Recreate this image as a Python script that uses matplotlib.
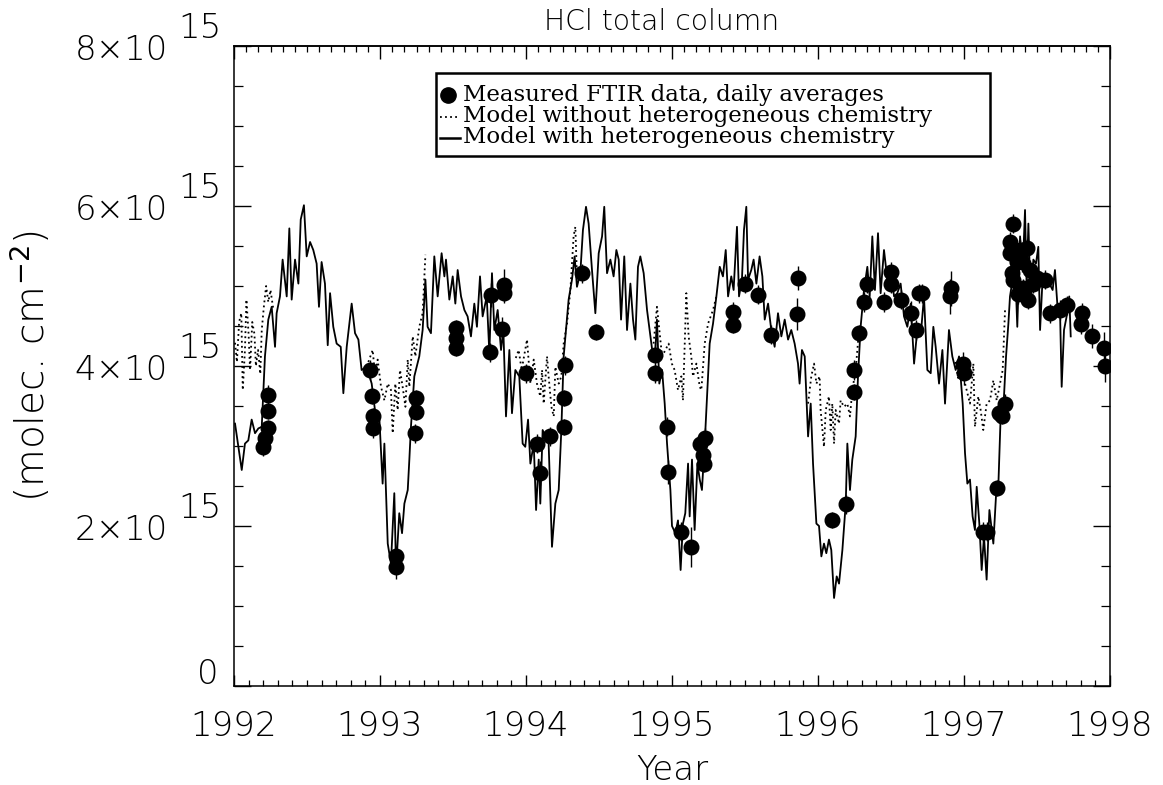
import numpy as np
import matplotlib
matplotlib.use("Agg")
import matplotlib.pyplot as plt
from matplotlib import font_manager
from matplotlib.font_manager import FontProperties
from matplotlib.ticker import MultipleLocator, FixedLocator, NullFormatter
from matplotlib.lines import Line2D
from matplotlib.patches import Rectangle
import matplotlib.transforms as mtrans

# ---------------- data (column in units of 1e15 molec/cm2) ----------------
with_het_year = [
    1992.007, 1992.030, 1992.053, 1992.075, 1992.098, 1992.121, 1992.144, 1992.167, 1992.190,
    1992.212, 1992.235, 1992.258, 1992.281, 1992.292, 1992.315, 1992.333, 1992.361, 1992.379,
    1992.395, 1992.418, 1992.441, 1992.457, 1992.479, 1992.498, 1992.521, 1992.543, 1992.566,
    1992.582, 1992.600, 1992.623, 1992.642, 1992.658, 1992.680, 1992.703, 1992.731, 1992.749,
    1992.772, 1992.790, 1992.806, 1992.829, 1992.852, 1992.874, 1992.909, 1992.943, 1992.977,
    1992.995, 1993.018, 1993.030, 1993.053, 1993.075, 1993.098, 1993.110, 1993.132, 1993.151,
    1993.167, 1993.190, 1993.201, 1993.212, 1993.235, 1993.269, 1993.292, 1993.311, 1993.326,
    1993.349, 1993.372, 1993.395, 1993.422, 1993.441, 1993.452, 1993.475, 1993.498, 1993.516,
    1993.532, 1993.555, 1993.578, 1993.600, 1993.623, 1993.646, 1993.664, 1993.685, 1993.703,
    1993.731, 1993.749, 1993.767, 1993.783, 1993.806, 1993.829, 1993.845, 1993.863, 1993.886,
    1993.904, 1993.927, 1993.954, 1993.977,
    1993.995, 1994.014, 1994.030, 1994.053, 1994.069, 1994.087, 1994.098, 1994.114, 1994.132,
    1994.155, 1994.178, 1994.201, 1994.224, 1994.242, 1994.258, 1994.274, 1994.292, 1994.315,
    1994.333, 1994.349, 1994.372, 1994.390, 1994.411, 1994.429, 1994.452, 1994.475, 1994.498,
    1994.521, 1994.536, 1994.555, 1994.578, 1994.600, 1994.619, 1994.635, 1994.651, 1994.673,
    1994.692, 1994.715, 1994.733, 1994.749, 1994.767, 1994.783, 1994.806, 1994.829, 1994.852,
    1994.870, 1994.886, 1994.897, 1994.913, 1994.932, 1994.950, 1994.966, 1994.989,
    1995.000, 1995.023, 1995.041, 1995.059, 1995.075, 1995.091, 1995.110, 1995.121, 1995.137,
    1995.155, 1995.174, 1995.190, 1995.205, 1995.224, 1995.242, 1995.258, 1995.281, 1995.304,
    1995.327, 1995.349, 1995.368, 1995.384, 1995.406, 1995.422, 1995.445, 1995.459, 1995.479,
    1995.493, 1995.509, 1995.521, 1995.543, 1995.559, 1995.578, 1995.600, 1995.619, 1995.635,
    1995.658, 1995.680, 1995.703, 1995.726, 1995.749, 1995.772, 1995.795, 1995.817, 1995.840,
    1995.863, 1995.874, 1995.890, 1995.909, 1995.932, 1995.950, 1995.966, 1995.989,
    1996.007, 1996.023, 1996.041, 1996.057, 1996.075, 1996.091, 1996.110, 1996.128, 1996.144,
    1996.167, 1996.190, 1996.201, 1996.219, 1996.235, 1996.258, 1996.274, 1996.292, 1996.315,
    1996.338, 1996.354, 1996.372, 1996.390, 1996.411, 1996.429, 1996.452, 1996.475, 1996.498,
    1996.521, 1996.543, 1996.566, 1996.589, 1996.612, 1996.635, 1996.658, 1996.680, 1996.703,
    1996.726, 1996.749, 1996.772, 1996.790, 1996.806, 1996.829, 1996.852, 1996.870, 1996.897,
    1996.920, 1996.943, 1996.966,
    1996.991, 1997.007, 1997.023, 1997.041, 1997.059, 1997.075, 1997.087, 1997.105, 1997.121,
    1997.137, 1997.155, 1997.174, 1997.190, 1997.201, 1997.219, 1997.235, 1997.251, 1997.269,
    1997.288, 1997.304, 1997.315, 1997.333, 1997.349, 1997.365, 1997.384, 1997.402, 1997.418,
    1997.429, 1997.441, 1997.457, 1997.475, 1997.493, 1997.509, 1997.521, 1997.539, 1997.562,
    1997.585, 1997.607, 1997.623, 1997.639, 1997.658, 1997.669, 1997.685, 1997.703, 1997.721,
    1997.731,
]
with_het_value = [
    3.28, 2.99, 2.70, 3.03, 3.07, 3.33, 3.16, 3.22, 3.24,
    4.12, 4.58, 4.74, 4.24, 4.66, 4.87, 5.33, 4.87, 5.72,
    4.83, 5.33, 5.03, 5.83, 6.01, 5.37, 5.55, 5.45, 5.28,
    4.74, 5.30, 5.03, 4.26, 4.91, 4.49, 4.28, 4.24, 3.66,
    4.24, 4.53, 4.78, 4.41, 4.33, 3.95, 3.99, 3.78, 3.28,
    3.37, 2.53, 3.03, 1.78, 1.53, 2.41, 1.45, 2.16, 1.91,
    2.28, 2.45, 2.83, 3.24, 3.87, 4.12, 4.45, 5.08, 4.49,
    4.41, 5.37, 4.87, 5.41, 5.12, 5.33, 4.83, 5.12, 4.78,
    5.20, 4.87, 4.70, 4.62, 4.37, 4.78, 4.49, 5.12, 4.62,
    4.87, 4.16, 5.16, 4.45, 4.70, 4.20, 4.45, 3.37, 4.20,
    3.41, 3.95, 3.87, 3.03,
    2.99, 3.33, 2.78, 3.03, 2.20, 2.83, 2.28, 3.20, 3.12,
    3.03, 1.74, 2.28, 2.45, 3.20, 4.12, 4.45, 4.83, 5.08,
    5.37, 4.99, 5.16, 5.70, 5.99, 5.78, 5.20, 4.66, 5.41,
    5.62, 5.99, 5.16, 5.33, 5.12, 5.45, 5.33, 4.58, 5.37,
    4.45, 5.03, 4.58, 4.33, 5.24, 5.37, 5.16, 4.70, 4.37,
    4.12, 4.20, 4.58, 3.78, 3.95, 3.53, 3.03, 2.45,
    2.00, 1.91, 2.07, 1.45, 2.03, 2.16, 2.78, 2.12, 2.83,
    1.95, 2.78, 2.58, 2.45, 3.03, 3.70, 4.28, 4.53, 4.87,
    5.24, 5.12, 5.45, 4.87, 5.12, 4.95, 5.74, 4.87, 5.08,
    5.70, 5.99, 5.08, 5.20, 5.33, 5.03, 5.37, 5.12, 4.58,
    4.78, 4.45, 4.24, 4.66, 4.37, 4.58, 4.33, 4.45, 4.28,
    4.03, 3.78, 4.20, 4.12, 3.12, 3.53, 2.78, 2.03,
    2.00, 1.62, 1.78, 1.66, 1.83, 1.70, 1.10, 1.37, 1.28,
    1.70, 2.28, 3.03, 2.45, 2.83, 3.12, 3.87, 4.49, 4.95,
    5.24, 4.87, 5.62, 4.95, 5.66, 4.91, 5.45, 5.08, 5.20,
    4.87, 4.91, 5.03, 4.62, 4.49, 4.78, 4.03, 4.45, 4.37,
    4.87, 3.95, 3.91, 4.49, 4.24, 3.78, 4.20, 3.53, 4.45,
    4.12, 3.95, 4.12,
    3.53, 2.91, 2.53, 2.58, 2.12, 1.95, 2.49, 2.03, 1.45,
    1.87, 1.33, 2.20, 1.95, 1.78, 2.37, 2.49, 3.37, 3.45,
    4.12, 4.53, 4.87, 5.08, 5.28, 4.49, 5.62, 5.20, 5.95,
    4.99, 5.78, 4.78, 5.33, 5.28, 5.49, 4.45, 5.12, 4.99,
    5.03, 4.95, 5.20, 4.78, 4.66, 3.74, 4.45, 4.62, 4.87,
    4.37,
]

# model without heterogeneous chemistry: only the winter parts differ visibly
no_het_year = [
    1992.007, 1992.020, 1992.035, 1992.050, 1992.060, 1992.075, 1992.085, 1992.100, 1992.110,
    1992.125, 1992.140, 1992.150, 1992.165, 1992.180, 1992.190, 1992.205, 1992.220, 1992.235,
    1992.250, 1992.270, np.nan,
    1992.920, 1992.950, 1992.965, 1992.984, 1993.007, 1993.030, 1993.053, 1993.075, 1993.087,
    1993.105, 1993.121, 1993.137, 1993.155, 1993.174, 1993.190, 1993.201, 1993.224, 1993.242,
    1993.269, 1993.292, 1993.311, np.nan,
    1993.930, 1993.950, 1993.970, 1994.007, 1994.030, 1994.053, 1994.075, 1994.098, 1994.110,
    1994.121, 1994.144, 1994.155, 1994.174, 1994.190, 1994.201, 1994.224, 1994.242, 1994.258,
    1994.281, 1994.304, 1994.326, 1994.338, 1994.349, np.nan,
    1994.874, 1994.897, 1994.932, 1994.977, 1994.999, 1995.018, 1995.041, 1995.064, 1995.075,
    1995.098, 1995.114, 1995.132, 1995.144, 1995.167, 1995.190, 1995.201, 1995.224, 1995.247,
    1995.281, 1995.304, np.nan,
    1995.932, 1995.954, 1995.973, 1995.989, 1996.011, 1996.018, 1996.041, 1996.053, 1996.075,
    1996.087, 1996.098, 1996.110, 1996.121, 1996.144, 1996.155, 1996.178, 1996.201, 1996.219,
    1996.235, 1996.258, 1996.281, np.nan,
    1996.940, 1996.960, 1996.973, 1996.995, 1997.018, 1997.041, 1997.064, 1997.075, 1997.098,
    1997.114, 1997.132, 1997.155, 1997.178, 1997.201, 1997.224, 1997.247, 1997.265, 1997.281,
]
no_het_value = [
    4.29, 4.05, 4.55, 4.66, 3.70, 4.20, 4.83, 4.40, 3.95,
    4.55, 4.40, 4.00, 4.20, 3.90, 4.45, 4.75, 5.00, 4.80,
    4.95, 4.70, np.nan,
    4.05, 4.20, 3.90, 4.08, 3.74, 3.57, 3.78, 3.70, 3.16,
    3.78, 3.45, 3.95, 3.74, 3.49, 4.08, 3.74, 4.37, 4.12,
    4.49, 4.66, 5.39, np.nan,
    4.10, 4.20, 3.95, 4.33, 3.78, 4.08, 3.78, 3.62, 3.95,
    3.53, 4.12, 3.87, 3.49, 3.37, 3.99, 3.78, 3.87, 4.28,
    4.53, 4.95, 5.62, 5.74, 5.10, np.nan,
    4.28, 4.74, 4.12, 4.28, 4.03, 3.95, 3.70, 3.87, 3.57,
    4.91, 4.37, 4.12, 3.87, 4.03, 3.74, 3.70, 4.28, 4.53,
    4.70, 4.87, np.nan,
    3.53, 3.87, 4.03, 3.78, 3.87, 3.45, 2.99, 3.45, 3.62,
    3.20, 3.53, 3.03, 3.45, 3.28, 3.57, 3.49, 3.53, 3.37,
    3.70, 3.95, 4.45, np.nan,
    4.05, 3.85, 3.99, 3.87, 3.70, 3.53, 4.03, 3.24, 3.62,
    3.45, 3.20, 3.53, 3.57, 3.82, 3.57, 3.78, 3.95, 4.70,
]

ftir_year = [
    1992.200, 1992.210, 1992.235, 1992.235, 1992.235,
    1992.932, 1992.943, 1992.954, 1992.954,
    1993.110, 1993.110, 1993.242, 1993.247, 1993.247,
    1993.520, 1993.520, 1993.520, 1993.753, 1993.760, 1993.836, 1993.852, 1993.852,
    1994.000, 1994.075, 1994.098, 1994.167, 1994.258, 1994.263, 1994.269,
    1994.384, 1994.479, 1994.886, 1994.886, 1994.966, 1994.973,
    1995.064, 1995.132, 1995.190, 1995.212, 1995.219, 1995.224,
    1995.418, 1995.418, 1995.498, 1995.589, 1995.680, 1995.858, 1995.863,
    1996.098, 1996.190, 1996.247, 1996.247, 1996.281, 1996.315, 1996.338,
    1996.452, 1996.498, 1996.498, 1996.566, 1996.635, 1996.669, 1996.692, 1996.715,
    1996.904, 1996.909,
    1996.995, 1997.000, 1997.132, 1997.155, 1997.224, 1997.242, 1997.258, 1997.281,
    1997.315, 1997.315, 1997.327, 1997.338, 1997.338, 1997.360, 1997.370, 1997.384,
    1997.400, 1997.406, 1997.429, 1997.441, 1997.450, 1997.475, 1997.500, 1997.555,
    1997.589, 1997.658, 1997.703, 1997.799, 1997.806, 1997.874, 1997.959, 1997.966,
]
ftir_value = [
    2.99, 3.10, 3.22, 3.44, 3.64,
    3.95, 3.62, 3.37, 3.22,
    1.62, 1.49, 3.16, 3.43, 3.60,
    4.22, 4.35, 4.47, 4.17, 4.89, 4.46, 4.91, 5.01,
    3.91, 3.03, 2.66, 3.12, 3.24, 3.60, 4.01,
    5.16, 4.43, 3.91, 4.14, 3.24, 2.68,
    1.93, 1.74, 3.03, 2.89, 2.78, 3.10,
    4.51, 4.68, 5.03, 4.89, 4.39, 4.65, 5.10,
    2.08, 2.27, 3.68, 3.95, 4.41, 4.80, 5.03,
    4.80, 5.03, 5.18, 4.83, 4.66, 4.45, 4.91, 4.91,
    4.87, 4.97,
    4.03, 3.91, 1.93, 1.93, 2.47, 3.41, 3.37, 3.53,
    5.41, 5.55, 5.16, 5.08, 5.78, 5.30, 4.90, 5.45,
    5.30, 4.97, 5.47, 4.83, 5.20, 5.03, 5.10, 5.08,
    4.66, 4.70, 4.76, 4.53, 4.66, 4.37, 4.22, 4.00,
]
ftir_error = [
    0.12, 0.10, 0.10, 0.10, 0.12,
    0.12, 0.10, 0.10, 0.12,
    0.12, 0.15, 0.12, 0.10, 0.10,
    0.10, 0.10, 0.10, 0.12, 0.15, 0.15, 0.12, 0.20,
    0.12, 0.12, 0.15, 0.12, 0.10, 0.10, 0.12,
    0.12, 0.10, 0.12, 0.15, 0.12, 0.15,
    0.12, 0.25, 0.12, 0.10, 0.10, 0.12,
    0.10, 0.12, 0.12, 0.12, 0.12, 0.20, 0.15,
    0.10, 0.12, 0.10, 0.12, 0.10, 0.12, 0.12,
    0.12, 0.12, 0.12, 0.12, 0.15, 0.12, 0.12, 0.12,
    0.22, 0.22,
    0.15, 0.15, 0.12, 0.12, 0.10, 0.12, 0.10, 0.12,
    0.12, 0.12, 0.12, 0.12, 0.12, 0.12, 0.12, 0.12,
    0.12, 0.12, 0.12, 0.12, 0.12, 0.12, 0.12, 0.12,
    0.12, 0.12, 0.12, 0.13, 0.13, 0.15, 0.20, 0.20,
]

year_ticks = [1992, 1993, 1994, 1995, 1996, 1997, 1998]
year_labels = ["1992", "1993", "1994", "1995", "1996", "1997", "1998"]
y_ticks = [0, 2, 4, 6, 8]
y_mantissa = ["0", "2\u00d710", "4\u00d710", "6\u00d710", "8\u00d710"]
y_exponent = ["", "15", "15", "15", "15"]
legend_labels = [
    "Measured FTIR data, daily averages",
    "Model without heterogeneous chemistry",
    "Model with heterogeneous chemistry",
]
title_text = "HCl total column"
xlabel_text = "Year"
ylabel_text = "(molec. cm$^{-2}$)"

# ---------------- fonts ----------------
def light_family():
    for fam in ["DejaVu Sans", "Open Sans", "Lato", "Roboto", "Inter", "Noto Sans"]:
        for f in font_manager.fontManager.ttflist:
            w = f.weight
            if isinstance(w, str):
                w = font_manager.weight_dict.get(w, 400)
            if f.name == fam and w <= 300 and f.style == "normal":
                return fam, w
    return "DejaVu Sans", 400

LFAM, LW = light_family()
BIG = 24.5

def lfp(size=BIG):
    return FontProperties(family=LFAM, weight=LW, size=size)

# ---------------- figure ----------------
W, H = 1163, 785
fig = plt.figure(figsize=(W / 100, H / 100), dpi=100)
L, R, T, B = 234, 1110, 46, 686
ax = fig.add_axes([L / W, 1 - B / H, (R - L) / W, (B - T) / H])

DOT = (0, (1.0, 1.8))
ax.plot(no_het_year, no_het_value, color="black", lw=1.3, ls=DOT, zorder=2)
ax.plot(with_het_year, with_het_value, color="black", lw=1.3, ls="-", zorder=2.5)
ax.errorbar(ftir_year, ftir_value, yerr=ftir_error, fmt="o", ms=10.5, color="black",
            ecolor="black", elinewidth=1.0, capsize=0, zorder=3)

ax.set_xlim(1992, 1998)
ax.set_ylim(0, 8)

for s in ax.spines.values():
    s.set_linewidth(1.1)

# bottom axis: years, 10 minor divisions
ax.xaxis.set_major_locator(FixedLocator(year_ticks))
ax.set_xticklabels(year_labels, fontproperties=lfp())
ax.xaxis.set_minor_locator(MultipleLocator(0.1))
ax.tick_params(axis="x", which="major", direction="in", length=8, width=1.0, pad=17,
               top=False, bottom=True)
ax.tick_params(axis="x", which="minor", direction="in", length=4.3, width=0.9,
               top=False, bottom=True)

# top axis: years with monthly minor ticks
sec = ax.secondary_xaxis("top")
sec.xaxis.set_major_locator(FixedLocator(year_ticks))
sec.xaxis.set_minor_locator(MultipleLocator(1 / 12))
sec.xaxis.set_major_formatter(NullFormatter())
sec.tick_params(axis="x", which="major", direction="in", length=9, width=1.0)
sec.tick_params(axis="x", which="minor", direction="in", length=4.5, width=0.9)
sec.spines["top"].set_linewidth(1.1)

# y axis
ax.yaxis.set_major_locator(FixedLocator(y_ticks))
ax.yaxis.set_minor_locator(MultipleLocator(0.5))
ax.tick_params(axis="y", which="major", direction="in", length=12, width=1.0,
               left=True, right=True, labelleft=False)
ax.tick_params(axis="y", which="minor", direction="in", length=6.5, width=0.9,
               left=True, right=True)

ytrans = mtrans.blended_transform_factory(fig.transFigure, ax.transData)
for v, m, e in zip(y_ticks, y_mantissa, y_exponent):
    if e:
        off = mtrans.ScaledTranslation(0, -5 / 100, fig.dpi_scale_trans)
        ax.text(168 / W, v, m, transform=ytrans + off, ha="right", va="center",
                fontproperties=lfp(), clip_on=False)
        off2 = mtrans.ScaledTranslation(0, 17 / 100, fig.dpi_scale_trans)
        ax.text(178 / W, v, e, transform=ytrans + off2, ha="left", va="center",
                fontproperties=lfp(), clip_on=False)
    else:
        off = mtrans.ScaledTranslation(0, 11 / 100, fig.dpi_scale_trans)
        ax.text(219 / W, v, m, transform=ytrans + off, ha="right", va="center",
                fontproperties=lfp(), clip_on=False)

# labels
fig.text(662 / W, 1 - 22 / H, title_text, ha="center", va="center",
         fontproperties=lfp(20.3))
fig.text((L + R) / 2 / W, 1 - 770 / H, xlabel_text, ha="center", va="center",
         fontproperties=lfp())
fig.text(31 / W, 1 - 366 / H, ylabel_text, rotation=90, ha="center",
         va="center", fontproperties=lfp(28))

# legend box (drawn by hand to match the boxed key of the original)
def fx(px):
    return px / W

def fy(py):
    return 1 - py / H

fig.add_artist(Rectangle((fx(436), fy(156)), fx(990) - fx(436), fy(73) - fy(156),
                         transform=fig.transFigure, fill=True, facecolor="white",
                         edgecolor="black", lw=1.8, zorder=5))
row_y = [95, 116, 137]
legend_font = FontProperties(family="DejaVu Serif", size=16.5)
fig.add_artist(Line2D([fx(448)], [fy(row_y[0])], ls="none", marker="o", ms=11,
                      color="black", transform=fig.transFigure, zorder=6))
fig.add_artist(Line2D([fx(440), fx(460)], [fy(row_y[1] + 1)] * 2, ls=DOT, lw=1.3,
                      color="black", transform=fig.transFigure, zorder=6))
fig.add_artist(Line2D([fx(440), fx(460)], [fy(row_y[2] + 1)] * 2, ls="-", lw=1.8,
                      color="black", transform=fig.transFigure, zorder=6))
for yy, lab in zip(row_y, legend_labels):
    fig.text(fx(463), fy(yy), lab, ha="left", va="center", fontproperties=legend_font,
             zorder=7)

fig.savefig("out.png", dpi=100)
